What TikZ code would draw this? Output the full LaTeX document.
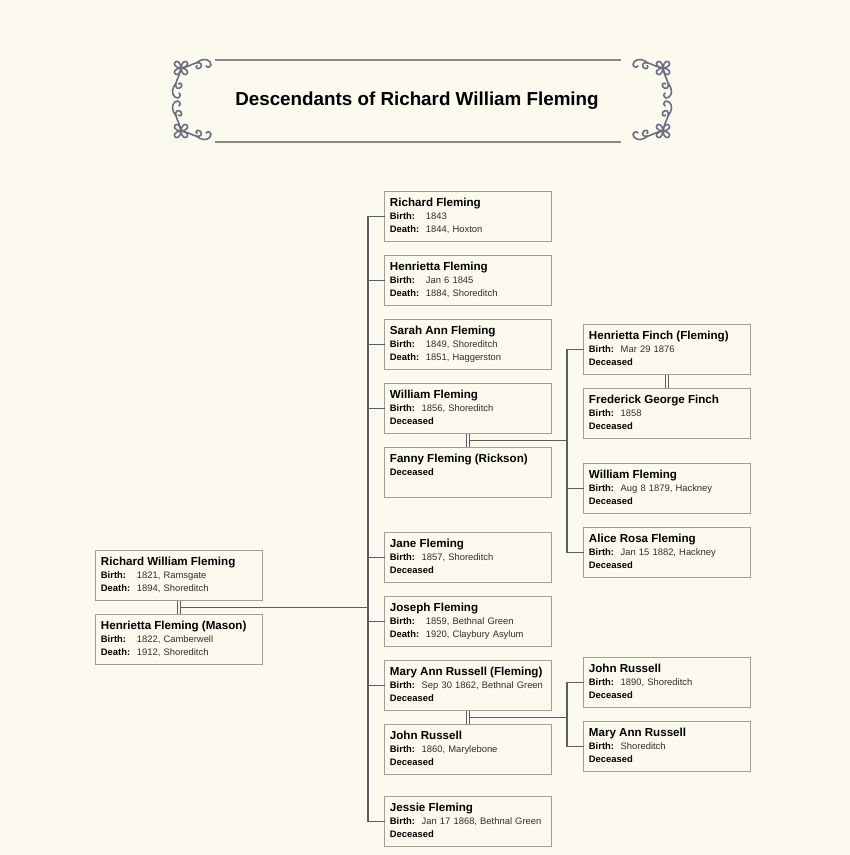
\documentclass[tikz,border=0pt]{standalone}
\usepackage{fontspec}
\setmainfont{Liberation Sans}
\usepackage{xcolor}
\definecolor{paper}{HTML}{FCF9EF}
\definecolor{boxline}{HTML}{A39F96}
\definecolor{wirecol}{HTML}{5A5D66}
\definecolor{orncol}{HTML}{6B7080}
\definecolor{rulecol}{HTML}{8A878D}
\definecolor{valtext}{HTML}{2E2E2E}
\newcommand{\card}[1]{\begin{tabular}{@{}l@{\hspace{6.7pt}}l@{}}#1\end{tabular}}
\newcommand{\who}[1]{\multicolumn{2}{@{}l@{}}{\fontsize{11.6}{13}\selectfont\bfseries #1}\\}
\newcommand{\fact}[2]{\bfseries #1: & {\color{valtext}#2}\\}
\newcommand{\dead}{\multicolumn{2}{@{}l@{}}{\bfseries Deceased}\\}
\tikzset{flourish/.pic={
	\foreach \a in {45,135,225,315}
		\draw[orn] (0,0) .. controls ({\a-38}:14) and ({\a+38}:14) .. (0,0);
	\draw[orn] (0,0) .. controls (7,-1) and (11,-4) .. (15,-5) .. controls (20,-7) and (22,-2) .. (19,0) .. controls (16,2) and (14,-1) .. (16,-2.5);
	\draw[orn] (15,-5) .. controls (20,-9) and (26,-10) .. (29,-6) .. controls (32,-2) and (27,1) .. (25,-2);
	\draw[orn] (0,0) .. controls (-1,7) and (-4,11) .. (-5,15) .. controls (-7,20) and (-2,22) .. (0,19) .. controls (2,16) and (-1,14) .. (-2.5,16);
	\draw[orn] (-5,15) .. controls (-9,20) and (-10,26) .. (-6,29) .. controls (-2,32) and (1,27) .. (-2,25);
}}
\begin{document}
\begin{tikzpicture}[x=1pt,y=-1pt,
	person/.style={draw=boxline,fill=paper,line width=0.9pt,anchor=north west,minimum width=167pt,minimum height=50pt,inner xsep=5.5pt,inner ysep=0pt,text width=156pt,align=left,font=\fontsize{9.4}{13}\selectfont},
	wire/.style={draw=wirecol,line width=1.6pt,line cap=rect},
	wed/.style={draw=wirecol,line width=1pt,double=paper,double distance=1.6pt},
	orn/.style={draw=orncol,line width=1.6pt,line cap=round}]
	\fill[paper] (0,0) rectangle (850,855);
	\useasboundingbox (0,0) rectangle (850,855);
%	\draw [help lines, step=50] (0,0) grid (850,855);
	% heading
	\node (title) at (417,101) {\fontsize{18.8}{22}\selectfont\bfseries Descendants of Richard William Fleming};
	\draw[rulecol,line width=2pt] (215,59.5) -- (621,59.5);
	\draw[rulecol,line width=2pt] (215,142) -- (621,142);
	\pic at (181,68) {flourish};
	\pic[yscale=-1] at (181,131) {flourish};
	\pic[xscale=-1] at (663,68) {flourish};
	\pic[xscale=-1,yscale=-1] at (663,131) {flourish};
	% parents
	\node[person] (rwf) at (95,550) {\card{\who{Richard William Fleming}\fact{Birth}{1821, Ramsgate}\fact{Death}{1894, Shoreditch}}};
	\node[person] (hfm) at (95,614) {\card{\who{Henrietta Fleming (Mason)}\fact{Birth}{1822, Camberwell}\fact{Death}{1912, Shoreditch}}};
	% children
	\node[person] (rf) at (384,191) {\card{\who{Richard Fleming}\fact{Birth}{1843}\fact{Death}{1844, Hoxton}}};
	\node[person] (hf) at (384,255) {\card{\who{Henrietta Fleming}\fact{Birth}{Jan 6 1845}\fact{Death}{1884, Shoreditch}}};
	\node[person] (sf) at (384,319) {\card{\who{Sarah Ann Fleming}\fact{Birth}{1849, Shoreditch}\fact{Death}{1851, Haggerston}}};
	\node[person] (wf) at (384,383) {\card{\who{William Fleming}\fact{Birth}{1856, Shoreditch}\dead}};
	\node[person] (ffr) at (384,447) {\card{\who{Fanny Fleming (Rickson)}\dead & \\}};
	\node[person] (jaf) at (384,532) {\card{\who{Jane Fleming}\fact{Birth}{1857, Shoreditch}\dead}};
	\node[person] (jof) at (384,596) {\card{\who{Joseph Fleming}\fact{Birth}{1859, Bethnal Green}\fact{Death}{1920, Claybury Asylum}}};
	\node[person] (mar) at (384,660) {\card{\who{Mary Ann Russell (Fleming)}\fact{Birth}{Sep 30 1862, Bethnal Green}\dead}};
	\node[person] (jr) at (384,724) {\card{\who{John Russell}\fact{Birth}{1860, Marylebone}\dead}};
	\node[person] (jsf) at (384,796) {\card{\who{Jessie Fleming}\fact{Birth}{Jan 17 1868, Bethnal Green}\dead}};
	% grandchildren
	\node[person] (hff) at (583,324) {\card{\who{Henrietta Finch (Fleming)}\fact{Birth}{Mar 29 1876}\dead}};
	\node[person] (fgf) at (583,388) {\card{\who{Frederick George Finch}\fact{Birth}{1858}\dead}};
	\node[person] (wf2) at (583,463) {\card{\who{William Fleming}\fact{Birth}{Aug 8 1879, Hackney}\dead}};
	\node[person] (arf) at (583,527) {\card{\who{Alice Rosa Fleming}\fact{Birth}{Jan 15 1882, Hackney}\dead}};
	\node[person] (jr2) at (583,657) {\card{\who{John Russell}\fact{Birth}{1890, Shoreditch}\dead}};
	\node[person] (mar2) at (583,721) {\card{\who{Mary Ann Russell}\fact{Birth}{Shoreditch}\dead}};
	% lines
	\coordinate (t1) at (368,607);
	\coordinate (t2) at (567,440);
	\path (rwf.south) -- coordinate (c1) (hfm.north);
	\path (wf.south) -- coordinate (c2) (ffr.north);
	\path (mar.south) -- coordinate (c3) (jr.north);
	\draw[wire] (c1) -- (c1 -| t1);
	\draw[wire] (t1 |- rf.west) -- (t1 |- jsf.west);
	\foreach \kid in {rf,hf,sf,wf,jaf,jof,mar,jsf}
		\draw[wire] (t1 |- \kid.west) -- (\kid.west);
	\draw[wire] (c2) -- (c2 -| t2);
	\draw[wire] (t2 |- hff.west) -- (t2 |- arf.west);
	\foreach \kid in {hff,wf2,arf}
		\draw[wire] (t2 |- \kid.west) -- (\kid.west);
	\draw[wire] (c3) -- (c3 -| t2);
	\draw[wire] (t2 |- jr2.west) -- (t2 |- mar2.west);
	\foreach \kid in {jr2,mar2}
		\draw[wire] (t2 |- \kid.west) -- (\kid.west);
	\draw[wed] (rwf.south) -- (hfm.north);
	\draw[wed] (wf.south) -- (ffr.north);
	\draw[wed] (mar.south) -- (jr.north);
	\draw[wed] (hff.south) -- (fgf.north);
\end{tikzpicture}
\end{document}
